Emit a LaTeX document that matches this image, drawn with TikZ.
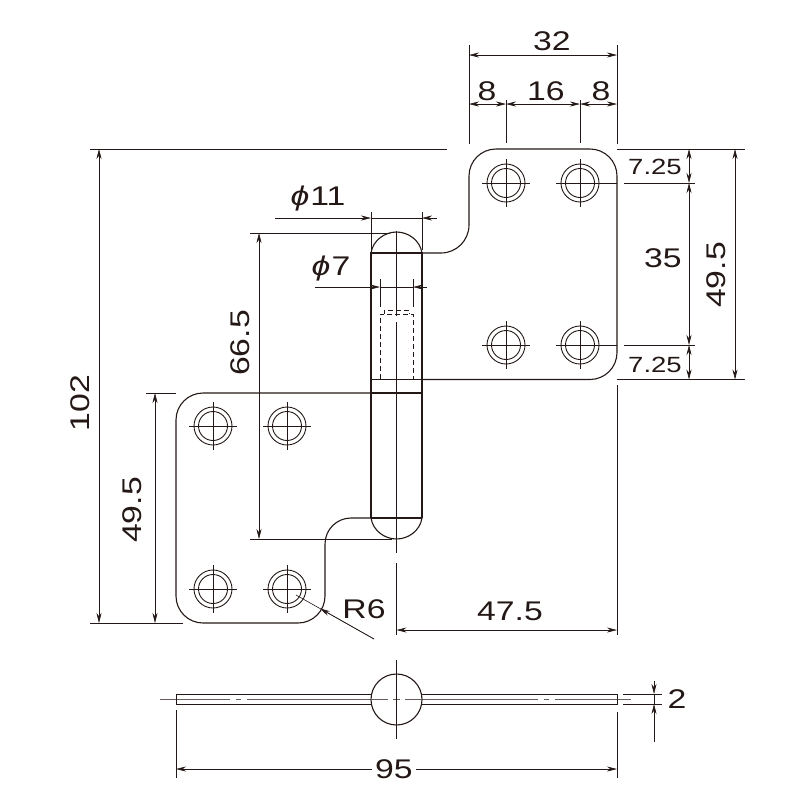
\documentclass[tikz,border=0pt]{standalone}
\usepackage{fontspec}
\setmainfont[FakeStretch=1.25]{Liberation Sans}
\usetikzlibrary{arrows.meta}
\definecolor{ink}{HTML}{231815}
\tikzset{
  outline/.style={draw=ink,line width=1.1pt},
  thin line/.style={draw=ink,line width=0.6pt},
  faint line/.style={draw=ink!70,line width=0.45pt},
  hidden line/.style={draw=ink,line width=0.8pt,dash pattern=on 5pt off 3pt},
  dimline/.style={draw=ink,line width=0.6pt,{Stealth[length=10pt,width=5pt]}-{Stealth[length=10pt,width=5pt]}},
  endtip/.style={draw=ink,line width=0.6pt,-{Stealth[length=10pt,width=5pt]}},
  lbl/.style={text=ink,font=\fontsize{27}{27}\selectfont,inner sep=0pt},
  lbs/.style={text=ink,font=\fontsize{22}{22}\selectfont,inner sep=0pt},
}
\newcommand{\hole}[4]{% x y left right
  \draw[outline,line width=0.9pt] (#1,#2) circle[radius=19];
  \draw[outline,line width=0.9pt] (#1,#2) circle[radius=14.5];
  \draw[thin line] (#1-#3,#2) -- (#1+#4,#2);
  \draw[thin line] (#1,#2-24) -- (#1,#2+24);
}
\begin{document}
\begin{tikzpicture}[x=1pt,y=-1pt]
\useasboundingbox (0,0) rectangle (812,812);
% right leaf
\draw[outline] (422,253) -- (441,253) arc[start angle=-90,end angle=0,x radius=28,y radius=-28]
  -- (469,176) arc[start angle=180,end angle=90,x radius=27,y radius=-27]
  -- (590,149) arc[start angle=90,end angle=0,x radius=27,y radius=-27]
  -- (617,352.5) arc[start angle=0,end angle=-90,x radius=27,y radius=-27]
  -- (422,379.5);
% left leaf
\draw[outline] (371,393) -- (203,393) arc[start angle=90,end angle=180,x radius=27,y radius=-27]
  -- (176,596) arc[start angle=180,end angle=270,x radius=27,y radius=-27]
  -- (298,623) arc[start angle=270,end angle=360,x radius=27,y radius=-27]
  -- (325,544) arc[start angle=180,end angle=90,x radius=26,y radius=-26]
  -- (371,518);
% knuckle
\draw[outline] (371,518) -- (371,253) -- (422,253) -- (422,518);
\draw[outline] (371,253) .. controls (373,240) and (385,232) .. (396.5,232) .. controls (408,232) and (420,240) .. (422,253);
\draw[outline] (371,379.5) -- (422,379.5);
\draw[outline] (371,393) -- (422,393);
\draw[outline] (371,518) -- (422,518);
\draw[outline] (371,518) .. controls (373,531) and (385,539) .. (396.5,539) .. controls (408,539) and (420,531) .. (422,518);
% hidden bore
\draw[hidden line] (380,379) -- (380,314) -- (413,314) -- (413,379);
\draw[hidden line] (384,314) -- (384,310) -- (409,310) -- (409,314);
% centre line
\draw[thin line] (396.5,231) -- (396.5,316);
\draw[thin line] (396.5,322) -- (396.5,553);
\draw[thin line] (396.5,563) -- (396.5,635);
% holes
\hole{506}{183}{24}{24}
\hole{580}{183}{24}{37}
\hole{506}{345}{24}{24}
\hole{580}{345}{24}{37}
\hole{213}{426}{24}{24}
\hole{287}{426}{24}{24}
\hole{213}{589}{24}{24}
\hole{287}{589}{24}{24}
% top dims
\draw[thin line] (469,45) -- (469,144);
\draw[thin line] (617,45) -- (617,144);
\draw[thin line] (506,100) -- (506,143);
\draw[thin line] (580,100) -- (580,143);
\draw[dimline] (469,55) -- (617,55);
\draw[dimline] (469,104) -- (506,104);
\draw[dimline] (506,104) -- (580,104);
\draw[dimline] (580,104) -- (617,104);
\node[lbl] (d32) at (552,41) {32};
\node[lbl] (d8a) at (487,91) {8};
\node[lbl] (d16) at (546,91) {16};
\node[lbl] (d8b) at (601,91) {8};
% right dims
\draw[thin line] (617,149) -- (745,149);
\draw[thin line] (617,379.5) -- (745,379.5);
\draw[thin line] (624,183) -- (695,183);
\draw[thin line] (624,345) -- (695,345);
\draw[dimline] (735,149) -- (735,379.5);
\draw[dimline] (689,149) -- (689,183);
\draw[dimline] (689,183) -- (689,345);
\draw[dimline] (689,345) -- (689,379.5);
\node[lbs] (d725a) at (655,167) {7.25};
\node[lbs] (d725b) at (655,365) {7.25};
\node[lbl] (d35) at (663,258) {35};
\node[lbl,rotate=90] (d495a) at (716,275) {49.5};
% left dims
\draw[thin line] (90,149) -- (447,149);
\draw[thin line] (90,623) -- (183,623);
\draw[dimline] (99,149) -- (99,623);
\node[lbl,rotate=90] (d102) at (80,403) {102};
\draw[thin line] (250,233) -- (390,233);
\draw[thin line] (250,539) -- (392,539);
\draw[dimline] (259,233) -- (259,539);
\node[lbl,rotate=90] (d665) at (240,343) {66.5};
\draw[thin line] (146,393) -- (176,393);
\draw[dimline] (155,393) -- (155,623);
\node[lbl,rotate=90] (d495b) at (132,510) {49.5};
% phi dims
\draw[thin line] (371,212) -- (371,250);
\draw[thin line] (422,212) -- (422,250);
\draw[endtip] (275,218) -- (371,218);
\draw[thin line] (371,218) -- (422,218);
\draw[endtip] (437,218) -- (422,218);
\node[lbl] (phia) at (318,199) {\textit{ϕ}\hspace{1pt}11};
\draw[thin line] (380,279) -- (380,307);
\draw[thin line] (413,279) -- (413,307);
\draw[endtip] (315,287) -- (380,287);
\draw[thin line] (380,287) -- (413,287);
\draw[endtip] (427,287) -- (413,287);
\node[lbl] (phib) at (331,269) {\textit{ϕ}\hspace{1pt}7};
% R6
\draw[thin line] (374,639) -- (296,595);
\draw[endtip] (374,639) -- (320,608.5);
\node[lbl] (r6) at (364,609) {R6};
% 47.5
\draw[thin line] (617,385) -- (617,635);
\draw[dimline] (396.5,630) -- (617,630);
\node[lbl] (d475) at (510,611) {47.5};
% end view
\draw[faint line] (160,699) -- (230,699);
\draw[faint line] (236,699) -- (241,699);
\draw[faint line] (247,699) -- (371,699);
\draw[faint line] (422,699) -- (538,699);
\draw[faint line] (544,699) -- (549,699);
\draw[faint line] (555,699) -- (631,699);
\draw[outline,line width=0.9pt] (176,694) rectangle (617,704);
\draw[outline,fill=white] (396.5,699.5) circle[radius=25.5];
\draw[faint line] (371,699) -- (388,699);
\draw[faint line] (393,699) -- (400,699);
\draw[faint line] (405,699) -- (422,699);
\draw[thin line] (396.5,660) -- (396.5,739);
\draw[thin line] (176,710) -- (176,778);
\draw[thin line] (617,712) -- (617,778);
\draw[thin line] (623,694) -- (662,694);
\draw[thin line] (623,704) -- (662,704);
\draw[thin line] (654,694) -- (654,704);
\draw[endtip] (654,681) -- (654,694);
\draw[endtip] (654,742) -- (654,704);
\node[lbl] (d2) at (677,699) {2};
\draw[endtip] (372,769) -- (176,769);
\draw[endtip] (416,769) -- (617,769);
\node[lbl] (d95) at (394,769) {95};
\end{tikzpicture}
\end{document}
